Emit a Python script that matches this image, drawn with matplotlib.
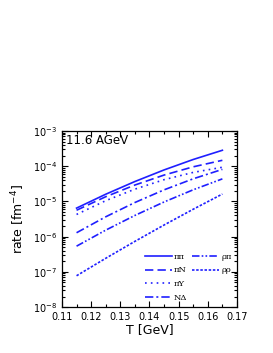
import matplotlib
matplotlib.use("Agg")
import matplotlib.pyplot as plt
from matplotlib.lines import Line2D
from matplotlib.ticker import MultipleLocator, LogLocator, NullFormatter

T = [0.115, 0.125, 0.135, 0.145, 0.155, 0.165]

rate_pipi = [6.46e-6, 1.60e-5, 3.67e-5, 7.83e-5, 1.55e-4, 2.83e-4]
rate_piN = [5.62e-6, 1.36e-5, 2.92e-5, 5.60e-5, 9.6e-5, 1.47e-4]
rate_piY = [4.27e-6, 1.05e-5, 2.23e-5, 4.14e-5, 6.67e-5, 9.33e-5]
rate_NDelta = [1.29e-6, 3.66e-6, 9.31e-6, 2.13e-5, 4.39e-5, 8.13e-5]
rate_rhopi = [5.37e-7, 1.53e-6, 4.0e-6, 9.64e-6, 2.14e-5, 4.37e-5]
rate_rhorho = [7.76e-8, 2.43e-7, 7.35e-7, 2.14e-6, 6.0e-6, 1.62e-5]

blue = "#1f1fff"
lw = 1.2

fig = plt.figure(figsize=(2.73, 3.53), dpi=100)
ax = fig.add_axes([0.227, 0.130, 0.641, 0.499])

l1, = ax.plot(T, rate_pipi, color=blue, lw=lw, ls="-")
l2, = ax.plot(T, rate_piN, color=blue, lw=lw, ls=(0, (5, 2.5)))
l3, = ax.plot(T, rate_piY, color=blue, lw=lw, ls=(0, (1, 2.5)))
l4, = ax.plot(T, rate_NDelta, color=blue, lw=lw, ls=(0, (5, 1.8, 1.2, 1.8)))
l5, = ax.plot(T, rate_rhopi, color=blue, lw=lw, ls=(0, (4.5, 1.3, 1, 1.3, 1, 1.3)))
l6, = ax.plot(T, rate_rhorho, color=blue, lw=lw, ls=(0, (1.5, 1)))

ax.set_yscale("log")
ax.set_xlim(0.11, 0.17)
ax.set_ylim(1e-8, 1e-3)
ax.xaxis.set_major_locator(MultipleLocator(0.01))
ax.xaxis.set_minor_locator(MultipleLocator(0.005))
ax.yaxis.set_major_locator(LogLocator(base=10, numticks=10))
ax.yaxis.set_minor_locator(LogLocator(base=10, subs=range(2, 10), numticks=20))
ax.yaxis.set_minor_formatter(NullFormatter())
ax.tick_params(which="both", direction="in", top=True, right=True, labelsize=7, width=0.8)
ax.tick_params(which="major", length=4)
ax.tick_params(which="minor", length=2)
for s in ax.spines.values():
    s.set_linewidth(0.9)

ax.set_xlabel("T [GeV]", fontsize=9, labelpad=1)
ax.set_ylabel("rate [fm$^{-4}$]", fontsize=9, labelpad=4)
ax.text(0.025, 0.945, "11.6 AGeV", transform=ax.transAxes, fontsize=8.5, va="center", ha="left")

blank = Line2D([], [], color="none")
handles = [l1, l2, l3, l4, l5, l6, blank, blank]
labels = ["ππ", "πN", "πY", "NΔ", "ρπ", "ρρ", "", ""]
leg = ax.legend(handles, labels, ncol=2, loc="lower right", frameon=False,
                prop={"family": "DejaVu Serif", "size": 6},
                handlelength=3.2, handletextpad=0.3, columnspacing=0.6,
                labelspacing=0.7, borderaxespad=0.2)

fig.savefig("out.png", dpi=100)
